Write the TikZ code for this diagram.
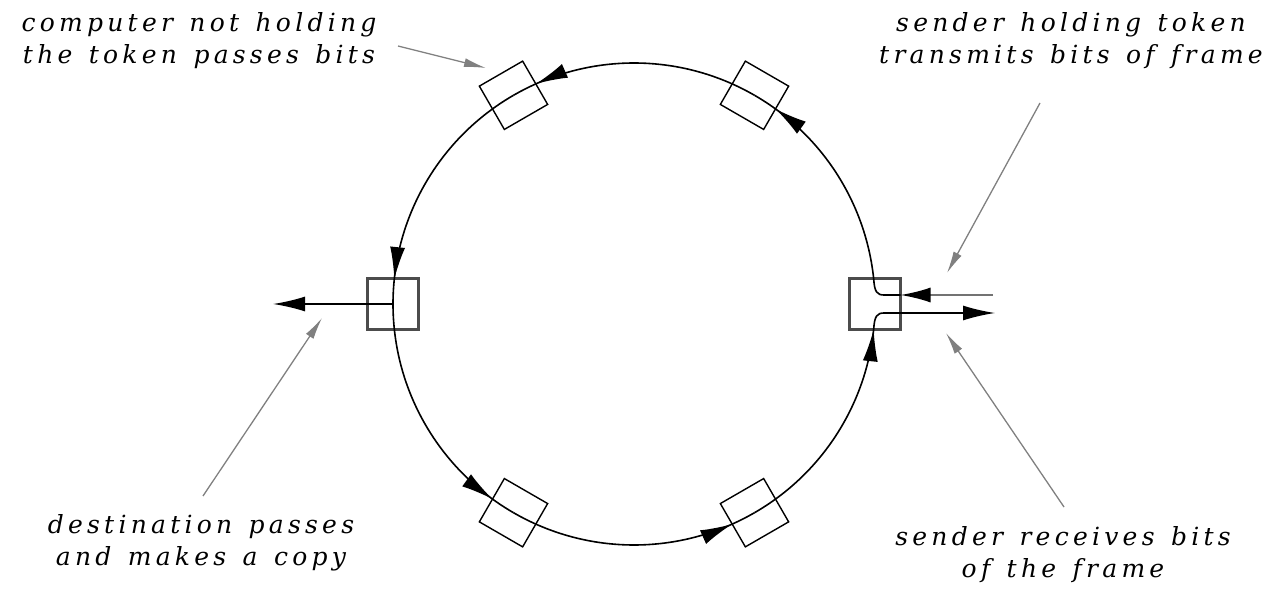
\documentclass[tikz,border=0pt]{standalone}
\usepackage{fontspec}
\newfontfamily\labfont[LetterSpace=17,WordSpace=1.35]{DejaVu Serif}
\usetikzlibrary{arrows.meta,decorations.markings}
\begin{document}
\begin{tikzpicture}[x=1pt,y=1pt,
  ring/.style={line width=1.6pt, draw=black},
  headat/.style={postaction={decorate}, decoration={markings, mark=at position #1 with {\arrow{Latex[length=32pt,width=15pt]}}}},
  flow/.style={ring, -{Latex[length=32pt,width=15pt]}},
  station/.style={draw, line width=1.4pt, minimum size=50pt, inner sep=0pt, outer sep=0pt},
  sidestation/.style={draw=black!70, line width=2.6pt, minimum size=51pt, inner sep=0pt, outer sep=0pt},
  pointer/.style={draw=black!50, line width=1.3pt, -{Latex[length=22pt,width=9pt]}},
  annot/.style={font=\labfont\itshape\fontsize{25}{32}\selectfont, align=center, inner sep=0pt},
]
\useasboundingbox (0,0) rectangle (1269,595);
\coordinate (O) at (634,291);
% stations
\node[sidestation] (L) at ([shift={(180:241)}]O) {};
\node[sidestation] (R) at ([shift={(0:241)}]O) {};
\node[station, rotate=120] (TL) at ([shift={(120:241)}]O) {};
\node[station, rotate=60] (TR) at ([shift={(60:241)}]O) {};
\node[station, rotate=240] (BL) at ([shift={(240:241)}]O) {};
\node[station, rotate=300] (BR) at ([shift={(300:241)}]O) {};
\coordinate (Rtop) at ([shift={(6:241)}]O);
\coordinate (Rbot) at ([shift={(-6:241)}]O);
% ring segments, each ending with an arrowhead at the next station
\draw[ring, headat=0.901] (TL.center) arc[start angle=120, end angle=180, radius=241];
\draw[ring, headat=0.901] (L.center) arc[start angle=180, end angle=240, radius=241];
\draw[ring, headat=0.901] (BL.center) arc[start angle=240, end angle=300, radius=241];
\draw[ring, headat=0.9995] (BR.center) arc[start angle=300, end angle=354, radius=241];
\draw[ring, headat=0.89] (Rtop) arc[start angle=6, end angle=60, radius=241];
\draw[ring, headat=0.901] (TR.center) arc[start angle=60, end angle=120, radius=241];
% right station internals
\coordinate (Rup) at (884,300);
\coordinate (Rlo) at (884,282);
\coordinate (inS) at (993,300);
\coordinate (outE) at (995,282);
\coordinate (outL) at (273,291);
\draw[ring] (Rtop) .. controls (874.5,303) and (877,300) .. (Rup) -- (R.east |- Rup);
\draw[ring] (Rbot) .. controls (874.5,279) and (877,282) .. (Rlo);
\draw[line width=1.8pt, draw=black!55, -{Latex[length=30pt,width=15pt,color=black]}] (inS) -- (R.east |- inS);
\draw[flow] (Rlo) -- (outE);
\draw[flow] (L.center) -- (outL);
% labels
\node[annot] (t1) at (199,554) {computer not holding\\the token passes bits};
\node[annot] (t2) at (1071,554) {sender holding token\\transmits bits of frame};
\node[annot] (t3) at (201,52) {destination passes\\and makes a copy};
\node[annot] (t4) at (1063,40) {sender receives bits\\of the frame};
\coordinate (p1s) at (398,549);
\coordinate (p1e) at (486,527);
\coordinate (p2s) at (1040,492);
\coordinate (p2e) at (947,322);
\coordinate (p3s) at (1064,88);
\coordinate (p3e) at (946,262);
\coordinate (p4s) at (203,99);
\coordinate (p4e) at (322,277);
\draw[pointer] (p1s) -- (p1e);
\draw[pointer] (p2s) -- (p2e);
\draw[pointer] (p3s) -- (p3e);
\draw[pointer] (p4s) -- (p4e);
\end{tikzpicture}
\end{document}
